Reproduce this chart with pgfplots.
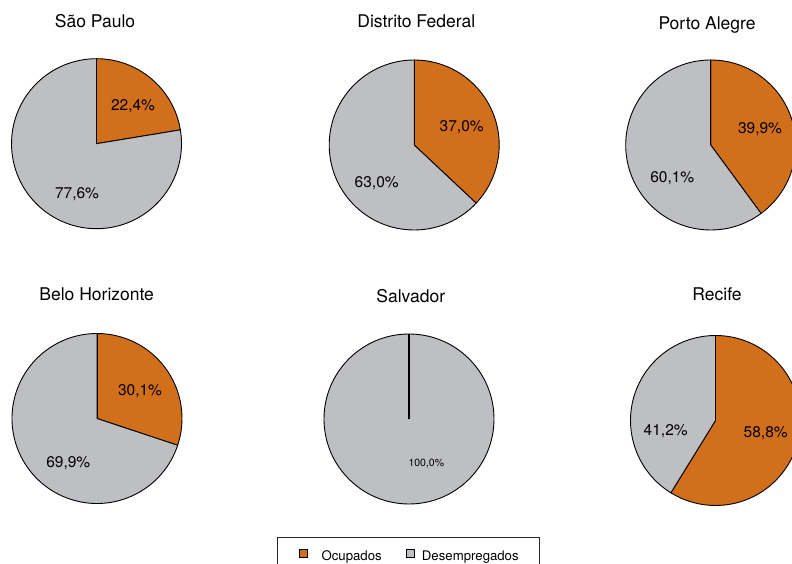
\documentclass[border=0pt]{standalone}
\usepackage{fontspec}
\setmainfont{TeX Gyre Heros}
\usepackage{pgfplots}
\usepackage{pgfplotstable}
\pgfplotsset{compat=1.18}
\pgfkeys{/pgf/number format/assume math mode=true}
\definecolor{ocup}{RGB}{210,111,26}
\definecolor{desemp}{RGB}{190,191,195}

\pgfplotstableread{
idx ocupados desempregados
0 22.4 77.6
1 37.0 63.0
2 39.9 60.1
3 30.1 69.9
4 0.0 100.0
5 58.8 41.2
}\dados

\newcommand{\titlefont}{\fontsize{17.5}{20}\selectfont}
\newcommand{\lblfont}{\fontsize{15.5}{18}\selectfont}
\newcommand{\smallfont}{\fontsize{10.5}{12}\selectfont}
\tikzset{
  lbl/.style={font=\lblfont, text height=11.1pt},
  sml/.style={font=\smallfont, text height=7.5pt}
}

% #1 cx, #2 cy, #3 row, #4 title, #5 title pos, #6 ocup label pos, #7 desemp label pos, #8 label style
\newcommand{\pie}[8]{%
  \pgfplotstablegetelem{#3}{ocupados}\of\dados\edef\vo{\pgfplotsretval}%
  \pgfplotstablegetelem{#3}{desempregados}\of\dados\edef\vd{\pgfplotsretval}%
  \pgfmathsetmacro\ang{90-3.6*\vo}%
  \ifdim\vo pt>0pt
    \def\olabel{\pgfmathprintnumber[fixed,fixed zerofill,precision=1,use comma]{\vo}\%}\def\blw{0.9pt}%
  \else
    \def\olabel{}\def\blw{1.8pt}%
  \fi
  \begin{axis}[at={(#1pt,#2pt)}, anchor=center, hide axis, clip=false,
    x=1pt, y=1pt, xmin=-85, xmax=85, ymin=-85, ymax=85]
    \filldraw[fill=ocup, draw=black, line width=0.9pt, line join=round]
      (axis cs:0,0) -- (axis cs:0,85) arc[start angle=90, end angle=\ang, radius=85pt] -- cycle;
    \filldraw[fill=desemp, draw=black, line width=0.9pt, line join=round]
      (axis cs:0,0) -- ++(\ang:85pt) arc[start angle=\ang, end angle=-270, radius=85pt] -- cycle;
    \draw[line width=\blw] (axis cs:0,0) -- (axis cs:0,85);
    \node[anchor=base, font=\titlefont, inner sep=0pt] at (axis cs:#5) {#4};
    \node[anchor=center, inner sep=0pt, text depth=0pt, #8] at (axis cs:#6) {\olabel};
    \node[anchor=center, inner sep=0pt, text depth=0pt, #8] at (axis cs:#7)
      {\pgfmathprintnumber[fixed,fixed zerofill,precision=1,use comma]{\vd}\%};
  \end{axis}%
}

\begin{document}
\begin{tikzpicture}
\path[use as bounding box] (0pt,0pt) rectangle (792pt,564pt);
\clip (0pt,0pt) rectangle (792pt,564pt);

\pie{96.5}{420.3}{0}{São Paulo}{-1.5,116}{36.5,38.7}{-19.5,-49.3}{lbl}
\pie{414.2}{419}{1}{Distrito Federal}{2.1,117.7}{47.5,19.3}{-37.5,-37.3}{lbl}
\pie{710.7}{419}{2}{Porto Alegre}{-3.7,115.7}{49.3,16.7}{-38.4,-31.7}{lbl}
\pie{97}{145.5}{3}{Belo Horizonte}{-0.3,117.8}{43,28.5}{-28.7,-43.2}{lbl}
\pie{409}{145}{4}{Salvador}{1.8,116.3}{0,0}{17.3,-43.5}{sml}
\pie{715.5}{143.5}{5}{Recife}{1.5,119.8}{50.2,-11.2}{-49.8,-9.5}{lbl}

\begin{axis}[at={(276.7pt,26.7pt)}, anchor=north west, hide axis, clip=false,
  x=1pt, y=1pt, xmin=0, xmax=10, ymin=-10, ymax=0,
  legend columns=2,
  legend image code/.code={\path (0pt,0pt); \draw[#1, line width=0.6pt] (3.6pt,3.25pt) rectangle (11.1pt,10.75pt);},
  legend style={at={(0,1)}, anchor=north west, draw=black!85, line width=0.6pt, fill=white,
    font=\fontsize{13.2}{16}\selectfont, inner xsep=18.4pt, inner ysep=10.7pt,
    cells={anchor=base west, inner sep=0pt},
    /tikz/every odd column/.append style={column sep=5.5pt},
    /tikz/column 2/.append style={column sep=19pt}}]
  \addlegendimage{fill=ocup, draw=black}
  \addlegendentry{\hspace*{7pt}Ocupados}
  \addlegendimage{fill=desemp, draw=black}
  \addlegendentry{Desempregados}
\end{axis}
\end{tikzpicture}
\end{document}
